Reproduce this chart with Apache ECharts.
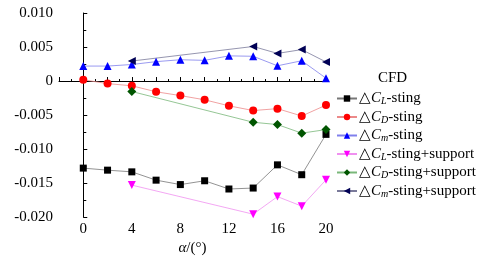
<!DOCTYPE html>
<html>
<head>
<meta charset="utf-8">
<script src="https://cdn.jsdelivr.net/npm/echarts@6/dist/echarts.min.js"></script>
<style>
  html, body { margin: 0; padding: 0; background: #fff; }
  #main { width: 500px; height: 261px; }
</style>
</head>
<body>
<div id="main"></div>
<script>
// angle of attack (deg)
var alphaAll = [0, 2, 4, 6, 8, 10, 12, 14, 16, 18, 20]
var alphaSup = [4, 14, 16, 18, 20]

// sting only
var clSting = [-0.0128, -0.0131, -0.01335, -0.01457, -0.01522, -0.01466, -0.01587, -0.01573, -0.01232, -0.01377, -0.00784]
var cdSting = [0.00018, -0.00038, -0.0007, -0.00158, -0.00214, -0.00276, -0.00364, -0.00434, -0.00406, -0.00514, -0.00354]
var cmSting = [0.0022, 0.0022, 0.00243, 0.00285, 0.00313, 0.00304, 0.0037, 0.00364, 0.00224, 0.00298, 0.00042]

// sting + support
var clSup = [-0.0153, -0.01957, -0.01699, -0.01839, -0.01452]
var cdSup = [-0.00154, -0.00606, -0.0064, -0.00766, -0.00714]
var cmSup = [0.00294, 0.00508, 0.00406, 0.00462, 0.0028]

var FONT = 'Liberation Serif'

function pairs(xs, ys) {
  return xs.map(function (x, i) { return [x, ys[i]] })
}

var seriesDefs = [
  { name: 'cl', sub: 'L', tail: '-sting', x: alphaAll, y: clSting, color: '#000000', line: '#777777', symbol: 'rect', size: 7 },
  { name: 'cd', sub: 'D', tail: '-sting', x: alphaAll, y: cdSting, color: '#ff0000', line: '#ec8a8a', symbol: 'circle', size: 8 },
  { name: 'cm', sub: 'm', tail: '-sting', x: alphaAll, y: cmSting, color: '#0000ff', line: '#8080ec', symbol: 'triangle', size: 8, rotate: 0 },
  { name: 'cls', sub: 'L', tail: '-sting+support', x: alphaSup, y: clSup, color: '#ff00ff', line: '#f090f0', symbol: 'triangle', size: 8, rotate: 180 },
  { name: 'cds', sub: 'D', tail: '-sting+support', x: alphaSup, y: cdSup, color: '#005500', line: '#7ab87a', symbol: 'diamond', size: 9 },
  { name: 'cms', sub: 'm', tail: '-sting+support', x: alphaSup, y: cmSup, color: '#000055', line: '#7a7a9a', symbol: 'triangle', size: 8, rotate: 90 }
]

var labelOf = {}
seriesDefs.forEach(function (d) { labelOf[d.name] = d })

var chart = echarts.init(document.getElementById('main'))

// every piece of text goes through rich styles so the serif face is applied
var plain = { fontFamily: FONT, fontSize: 15, color: '#000', fontStyle: 'normal' }
var ital = { fontFamily: FONT, fontSize: 15, color: '#000', fontStyle: 'italic' }

var option = {
  animation: false,
  backgroundColor: '#fff',
  textStyle: { fontFamily: FONT },
  title: {
    text: '{p|CFD}',
    left: 373,
    top: 66,
    textStyle: { fontFamily: FONT, fontSize: 15, fontWeight: 'normal', color: '#000', rich: { p: plain } }
  },
  legend: {
    orient: 'vertical',
    left: 331,
    top: 86,
    itemGap: 3,
    itemWidth: 20,
    itemHeight: 8,
    data: seriesDefs.map(function (d) { return d.name }),
    formatter: function (name) {
      var d = labelOf[name]
      return '{t|△}{c|C}{s|' + d.sub + '}{t|' + d.tail + '}'
    },
    textStyle: {
      fontFamily: FONT,
      fontSize: 15,
      color: '#000',
      padding: [0, 0, 0, -3],
      rich: {
        t: plain,
        c: ital,
        s: { fontFamily: FONT, fontSize: 10, fontStyle: 'italic', color: '#000', verticalAlign: 'bottom', padding: [6, 0, 0, 0] }
      }
    }
  },
  grid: {
    left: 59,
    top: 13,
    width: 267,
    height: 214
  },
  xAxis: {
    type: 'value',
    min: -2,
    max: 20,
    interval: 2,
    name: '{a|α}{b|/(°)}',
    nameLocation: 'middle',
    nameGap: 23,
    nameTextStyle: {
      rich: { a: ital, b: plain }
    },
    axisLine: { lineStyle: { color: '#000', width: 1 } },
    axisTick: { inside: true, length: 4, lineStyle: { color: '#000' } },
    minorTick: { show: true, splitNumber: 2, length: 2, lineStyle: { color: '#000' } },
    splitLine: { show: false },
    axisLabel: {
      color: '#000',
      fontFamily: FONT,
      fontSize: 15,
      margin: 4,
      rich: { p: plain },
      formatter: function (v) {
        return (v >= 0 && v % 4 === 0) ? '{p|' + v + '}' : ''
      }
    }
  },
  yAxis: {
    type: 'value',
    min: -0.02,
    max: 0.01,
    interval: 0.005,
    axisLine: { show: true, lineStyle: { color: '#000', width: 1 } },
    axisTick: { show: true, inside: true, length: 4, lineStyle: { color: '#000' } },
    minorTick: { show: true, splitNumber: 2, length: 3, lineStyle: { color: '#000' } },
    splitLine: { show: false },
    axisLabel: {
      color: '#000',
      fontFamily: FONT,
      fontSize: 15,
      margin: 6,
      rich: { p: plain },
      formatter: function (v) {
        if (Math.abs(v) < 1e-9) return '{p|0}'
        return '{p|' + v.toFixed(3) + '}'
      }
    }
  },
  series: seriesDefs.map(function (d) {
    return {
      name: d.name,
      type: 'line',
      data: pairs(d.x, d.y),
      symbol: d.symbol,
      symbolSize: d.size,
      symbolRotate: d.rotate || 0,
      showAllSymbol: true,
      itemStyle: { color: d.color },
      lineStyle: { color: d.line, width: 0.8 }
    }
  })
}

chart.setOption(option)
</script>
</body>
</html>
